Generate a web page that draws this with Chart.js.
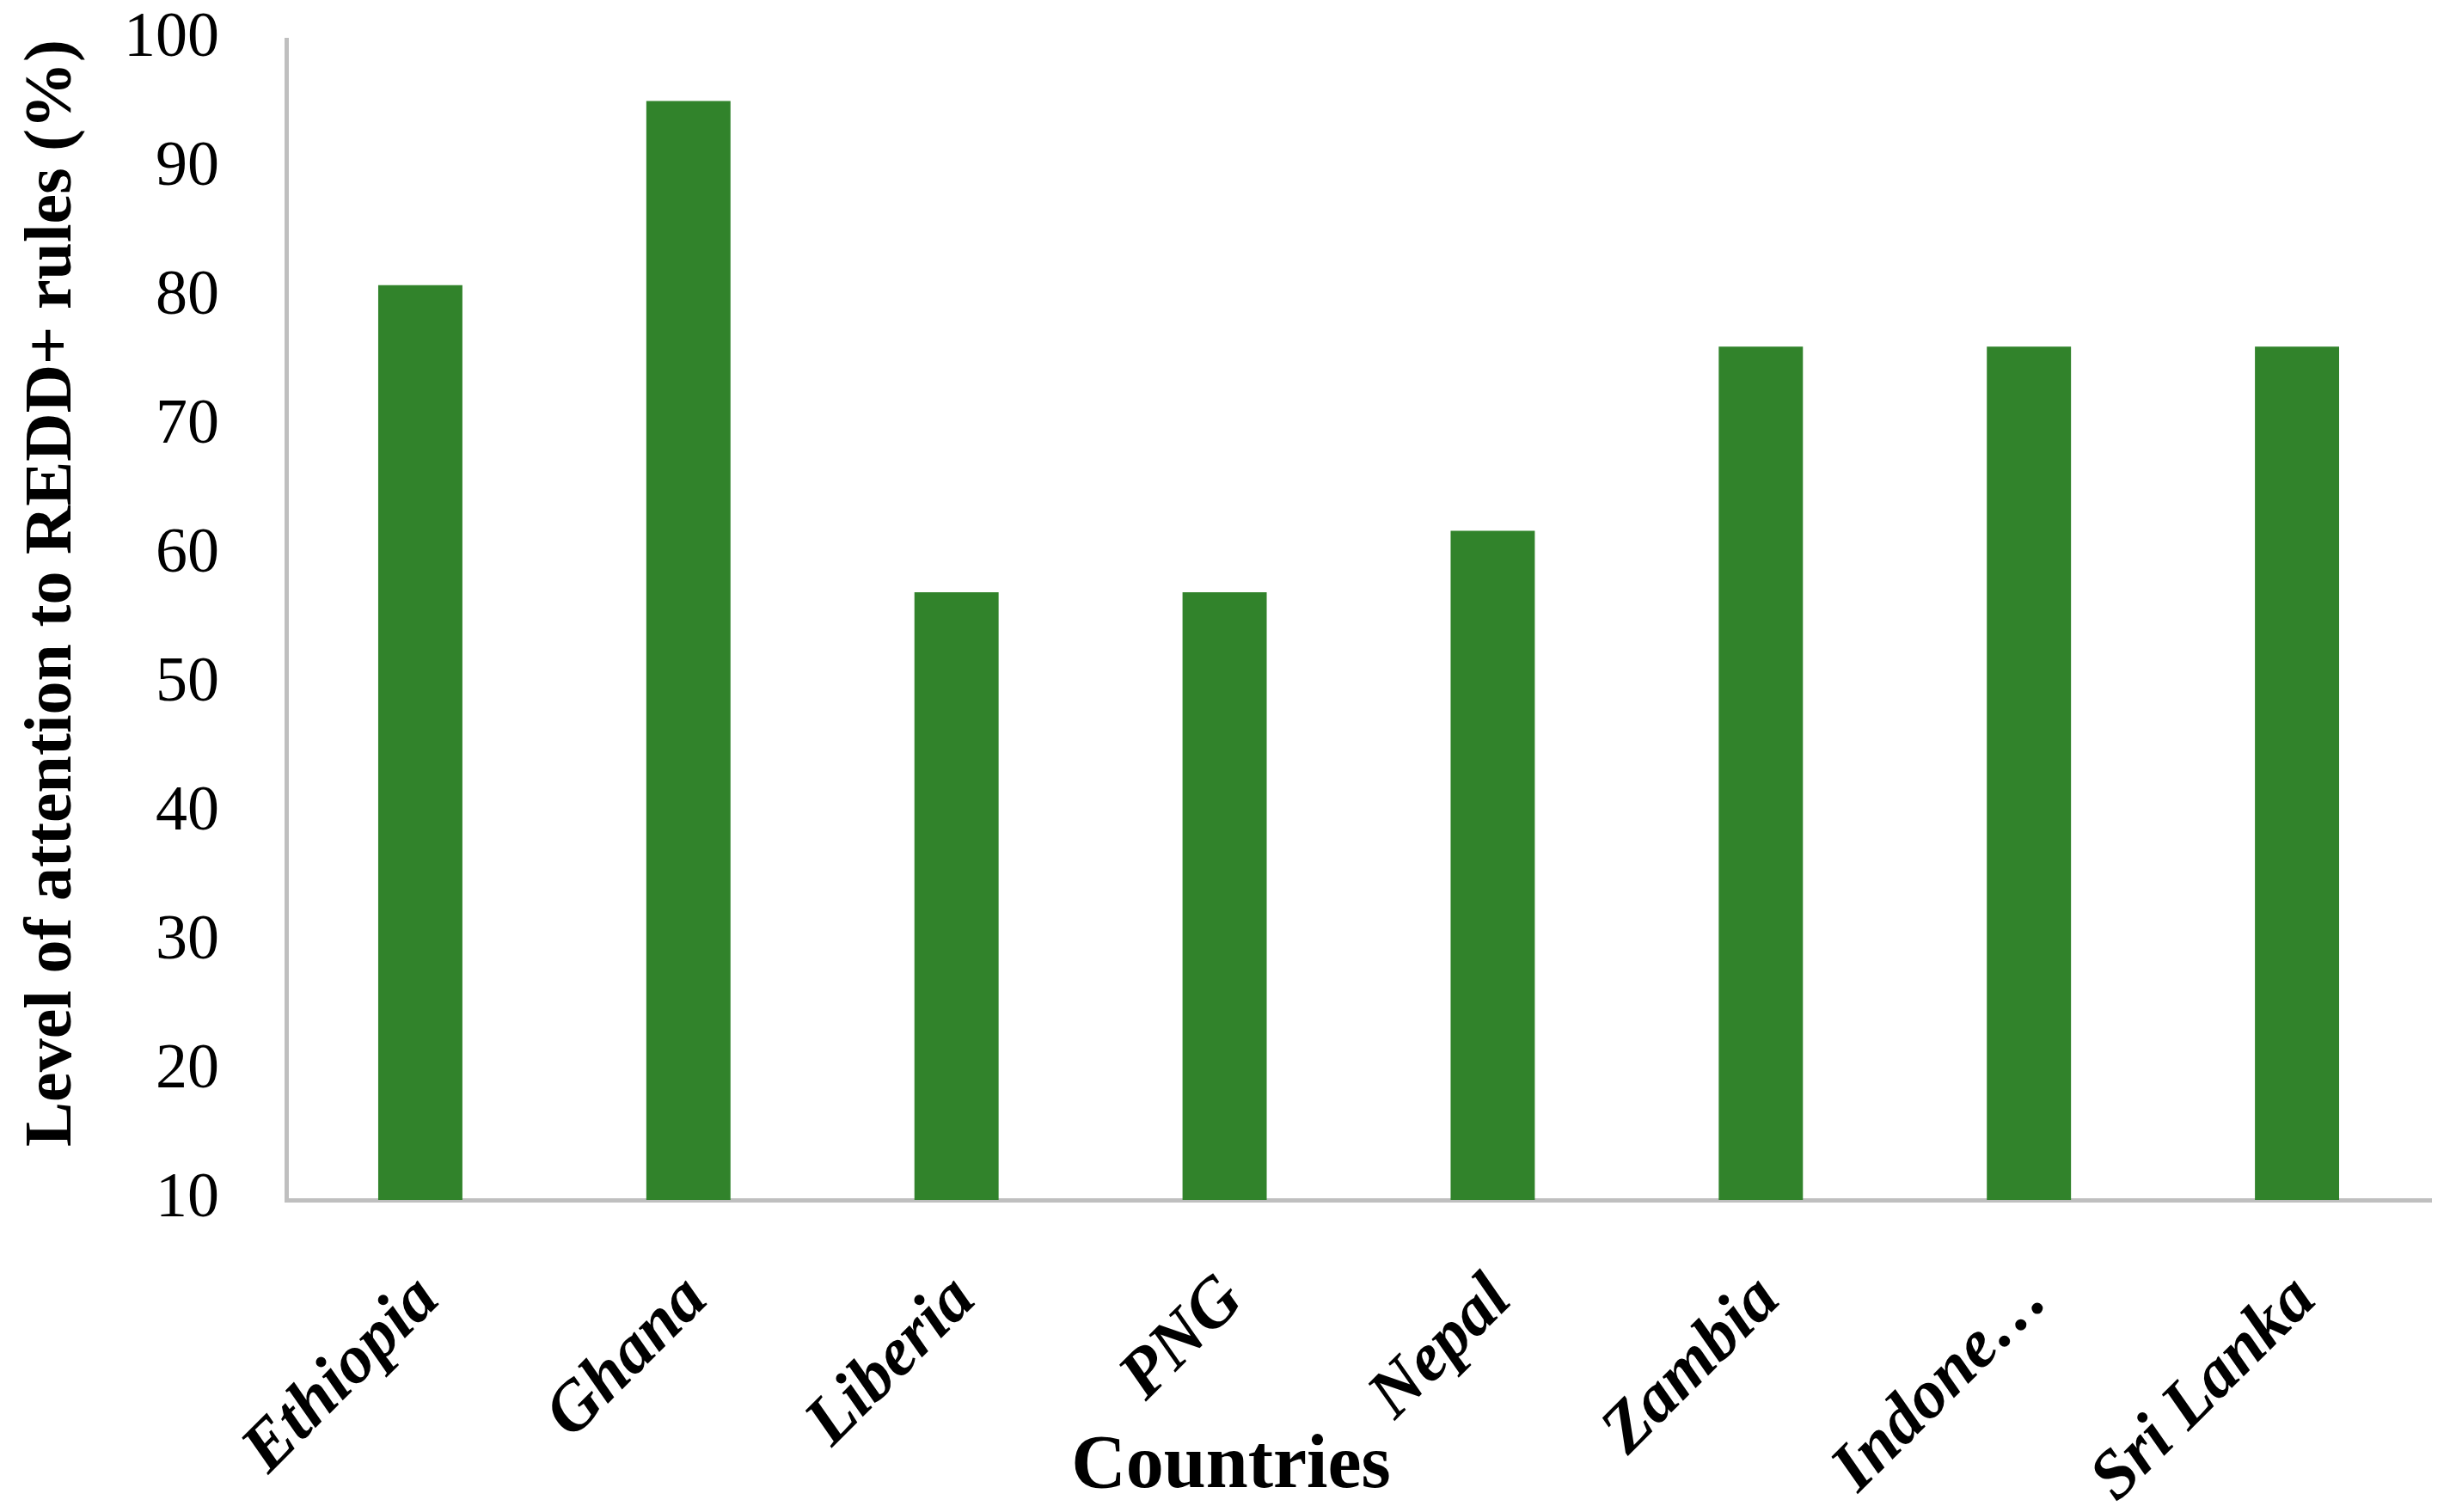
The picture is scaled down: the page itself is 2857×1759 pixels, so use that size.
<!DOCTYPE html>
<html>
<head>
<meta charset="utf-8">
<script src="https://cdn.jsdelivr.net/npm/chart.js@4/dist/chart.umd.min.js"></script>
<style>
  html, body { margin: 0; padding: 0; background: #ffffff; }
  #c { display: block; }
</style>
</head>
<body>
<canvas id="c" width="2857" height="1759"></canvas>
<script>
// ---- data ----
const countries = ["Ethiopia", "Ghana", "Liberia", "PNG", "Nepal", "Zambia", "Indone\u2026", "Sri Lanka"];
const attentionLevels = [80.95, 95.24, 57.14, 57.14, 61.90, 76.19, 76.19, 76.19];
const yTicks = [10, 20, 30, 40, 50, 60, 70, 80, 90, 100];
const yAxisTitle = "Level of attention to REDD+ rules (%)";
const xAxisTitle = "Countries";

const SERIF = "'Liberation Serif', 'Times New Roman', serif";

new Chart(document.getElementById('c'), {
  type: 'bar',
  data: {
    labels: countries,
    datasets: [{
      data: attentionLevels,
      backgroundColor: '#31832B',
      borderWidth: 0,
      barPercentage: 0.314,
      categoryPercentage: 1.0
    }]
  },
  options: {
    responsive: false,
    animation: false,
    devicePixelRatio: 1,
    layout: { padding: { left: 36, right: 29, top: 46, bottom: 0 } },
    plugins: {
      legend: { display: false },
      tooltip: { enabled: false },
      title: {
        display: true,
        position: 'bottom',
        text: xAxisTitle,
        color: '#000000',
        font: { family: SERIF, size: 88, weight: 'bold', lineHeight: 1 },
        // zero-height box: the title overlaps the rotated tick labels, as in the original
        padding: { top: -96, bottom: 8 }
      }
    },
    scales: {
      x: {
        grid: { display: false, drawTicks: false },
        border: { display: true, color: '#BFBFBF', width: 5 },
        ticks: {
          color: '#000000',
          font: { family: SERIF, size: 80, weight: 'bold', style: 'italic' },
          minRotation: 45,
          maxRotation: 45,
          autoSkip: false,
          padding: 70,
          labelOffset: 10
        },
        afterFit: (s) => { s.height = 363; s.paddingLeft = 0; s.paddingRight = 0; }
      },
      y: {
        min: 10,
        max: 100,
        grid: { display: false, drawTicks: false },
        border: { display: true, color: '#BFBFBF', width: 5 },
        afterBuildTicks: (s) => { s.ticks = yTicks.map(v => ({ value: v })); },
        ticks: {
          color: '#000000',
          font: { family: SERIF, size: 74 },
          padding: 78
        },
        title: {
          display: true,
          text: yAxisTitle,
          align: 'end',
          color: '#000000',
          font: { family: SERIF, size: 78, weight: 'bold', lineHeight: 0.5 },
          padding: { top: 6, bottom: 0 }
        },
        afterFit: (s) => { s.width = 297; s.paddingTop = 0; s.paddingBottom = 0; }
      }
    }
  }
});
</script>
</body>
</html>
